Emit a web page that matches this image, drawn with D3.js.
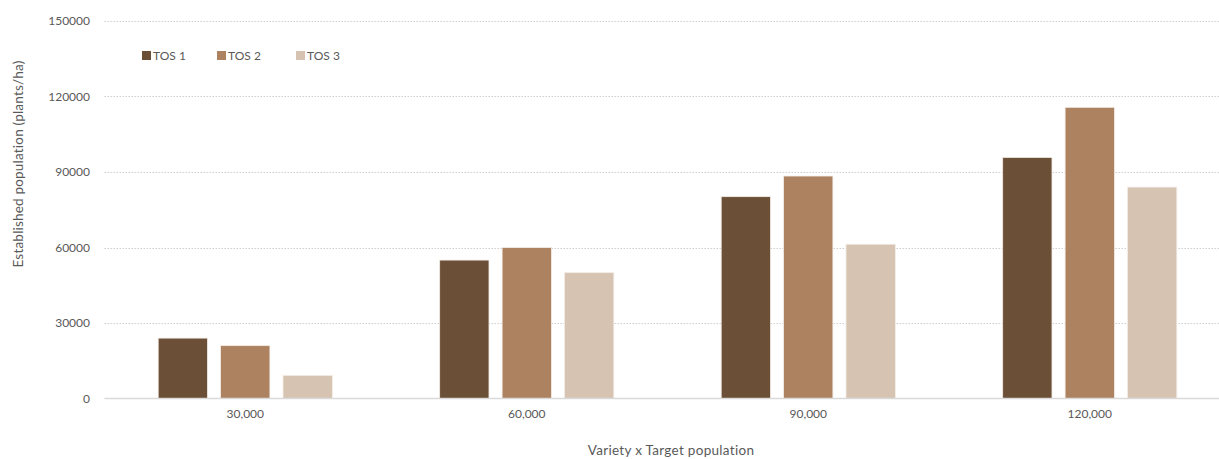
<!DOCTYPE html>
<html>
<head>
<meta charset="utf-8">
<script src="https://cdn.jsdelivr.net/npm/d3@7"></script>
<style>
  html, body { margin: 0; padding: 0; background: #fff; }
  svg { display: block; font-family: Lato, "Open Sans", sans-serif; }
</style>
</head>
<body>
<svg id="chart" width="1219" height="459"></svg>
<script>
// Target populations (x categories) and sowing times (series)
const categories = ["30,000", "60,000", "90,000", "120,000"];
const seriesNames = ["TOS 1", "TOS 2", "TOS 3"];
const tos1 = [24000, 55000, 80200, 95800];
const tos2 = [21000, 60000, 88400, 115700];
const tos3 = [9200, 50000, 61300, 84000];
const yTicks = [0, 30000, 60000, 90000, 120000, 150000];
const colors = ["#6b4f37", "#ad8260", "#d6c3b1"];

const seriesValues = [tos1, tos2, tos3];

const svg = d3.select("#chart");
const W = 1219;
const plot = { left: 104.5, top: 21, bottom: 398.5 };
const groupStep = 281.5;

const x0 = d3.scaleBand()
  .domain(categories)
  .range([plot.left, plot.left + groupStep * categories.length])
  .padding(0);

const x1 = d3.scaleBand()
  .domain(seriesNames)
  .range([0, x0.bandwidth()])
  .paddingInner(0.21)
  .paddingOuter(0.86);

const y = d3.scaleLinear()
  .domain([0, 150000])
  .range([plot.bottom, plot.top]);

// Dotted horizontal gridlines
svg.append("g")
  .selectAll("line")
  .data(yTicks.filter(d => d > 0))
  .join("line")
  .attr("x1", plot.left)
  .attr("x2", W)
  .attr("y1", d => Math.round(y(d)) + 0.5)
  .attr("y2", d => Math.round(y(d)) + 0.5)
  .attr("stroke", "#cfcfcf")
  .attr("stroke-width", 1)
  .attr("stroke-dasharray", "1.5,1.5");

// Y axis tick labels
const yAxis = d3.axisLeft(y).tickValues(yTicks).tickSize(0).tickPadding(0).tickFormat(d3.format("d"));
const yg = svg.append("g")
  .attr("transform", `translate(90,0)`)
  .call(yAxis);
yg.select(".domain").remove();
yg.selectAll("text")
  .attr("fill", "#595959")
  .style("font-size", "12px")
  .style("font-family", "Lato, 'Open Sans', sans-serif");

// Bars
const groups = svg.append("g")
  .selectAll("g")
  .data(categories)
  .join("g")
  .attr("transform", d => `translate(${x0(d)},0)`);

groups.selectAll("rect")
  .data((c, i) => seriesNames.map((s, j) => ({ s, j, v: seriesValues[j][i] })))
  .join("rect")
  .attr("x", d => x1(d.s))
  .attr("width", x1.bandwidth())
  .attr("y", d => y(d.v))
  .attr("height", d => y(0) - y(d.v))
  .attr("fill", d => colors[d.j])
  .attr("stroke", "#f3ede7")
  .attr("stroke-width", 0.8);

// Baseline
svg.append("line")
  .attr("x1", plot.left)
  .attr("x2", W)
  .attr("y1", y(0))
  .attr("y2", y(0))
  .attr("stroke", "#d9d9d9")
  .attr("stroke-width", 1.5);

// X axis category labels
const xAxis = d3.axisBottom(x0).tickSize(0).tickPadding(0);
const xg = svg.append("g")
  .attr("transform", `translate(0,${plot.bottom + 11})`)
  .call(xAxis);
xg.select(".domain").remove();
xg.selectAll("text")
  .attr("fill", "#595959")
  .attr("dy", "0.71em")
  .style("font-size", "12px")
  .style("font-family", "Lato, 'Open Sans', sans-serif");

// Axis titles
svg.append("text")
  .attr("x", 671)
  .attr("y", 455)
  .attr("text-anchor", "middle")
  .attr("fill", "#595959")
  .style("font-size", "13.5px")
  .style("letter-spacing", "0.3px")
  .text("Variety x Target population");

svg.append("text")
  .attr("transform", "translate(23,164) rotate(-90)")
  .attr("text-anchor", "middle")
  .attr("fill", "#595959")
  .style("font-size", "13.5px")
  .style("letter-spacing", "0.2px")
  .text("Established population (plants/ha)");

// Legend
const legendX = [142, 217, 296];
const legend = svg.append("g")
  .selectAll("g")
  .data(seriesNames)
  .join("g")
  .attr("transform", (d, i) => `translate(${legendX[i]},51)`);
legend.append("rect")
  .attr("width", 9)
  .attr("height", 9)
  .attr("fill", (d, i) => colors[i]);
legend.append("text")
  .attr("x", 11)
  .attr("y", 8.5)
  .attr("fill", "#595959")
  .style("font-size", "12px")
  .text(d => d);
</script>
</body>
</html>
